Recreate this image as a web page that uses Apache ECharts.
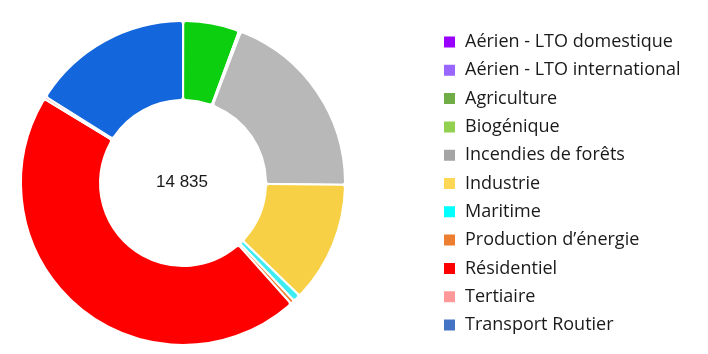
<!DOCTYPE html>
<html>
<head>
<meta charset="utf-8">
<script src="https://cdn.jsdelivr.net/npm/echarts@6/dist/echarts.min.js"></script>
<style>
  html, body { margin: 0; padding: 0; background: #fff; }
  #chart { width: 708px; height: 354px; }
</style>
</head>
<body>
<div id="chart"></div>
<script>
const categories = [
    'Aérien - LTO domestique',
    'Aérien - LTO international',
    'Agriculture',
    'Biogénique',
    'Incendies de forêts',
    'Industrie',
    'Maritime',
    'Production d\u2019énergie',
    'Résidentiel',
    'Tertiaire',
    'Transport Routier'
];
const values = [2, 2, 830, 30, 2870, 1790, 110, 60, 6720, 40, 2381];
const sliceColors = ['#9900ff', '#9a7cff', '#0ccf0f', '#8fa2ff', '#b8b8b8', '#f7d046',
    '#3eedf3', '#ee7d31', '#ff0000', '#ff9a9a', '#1366dc'];
const legendColors = ['#9900ff', '#9966ff', '#70ad47', '#92d050', '#a5a5a5', '#ffd757',
    '#00ffff', '#ed7d31', '#ff0000', '#ff9999', '#4472c4'];
const totalLabel = '14 835';

const myChart = echarts.init(document.getElementById('chart'));

myChart.setOption({
    animation: false,
    legend: {
        orient: 'vertical',
        left: 437,
        top: 28,
        icon: 'rect',
        itemWidth: 13,
        itemHeight: 13,
        itemGap: 10.3,
        selectedMode: false,
        textStyle: {
            fontFamily: 'Open Sans',
            fontSize: 18,
            lineHeight: 18,
            color: '#1a1a1a',
            padding: [0, 0, 0, 4]
        },
        data: categories.map((name, i) => ({
            name,
            itemStyle: {color: legendColors[i]}
        }))
    },
    graphic: [{
        type: 'text',
        left: 183 - 27,
        top: 174,
        style: {
            text: totalLabel,
            font: '17px "Liberation Sans"',
            fill: '#1a1a1a'
        }
    }],
    series: [{
        type: 'pie',
        center: [183, 183],
        radius: [83, 162],
        startAngle: 90,
        clockwise: true,
        avoidLabelOverlap: false,
        label: {show: false},
        labelLine: {show: false},
        emphasis: {disabled: true},
        itemStyle: {
            borderColor: '#fff',
            borderWidth: 2,
            borderRadius: 3
        },
        data: categories.map((name, i) => ({
            name,
            value: values[i],
            itemStyle: {color: sliceColors[i]}
        }))
    }]
});
</script>
</body>
</html>
